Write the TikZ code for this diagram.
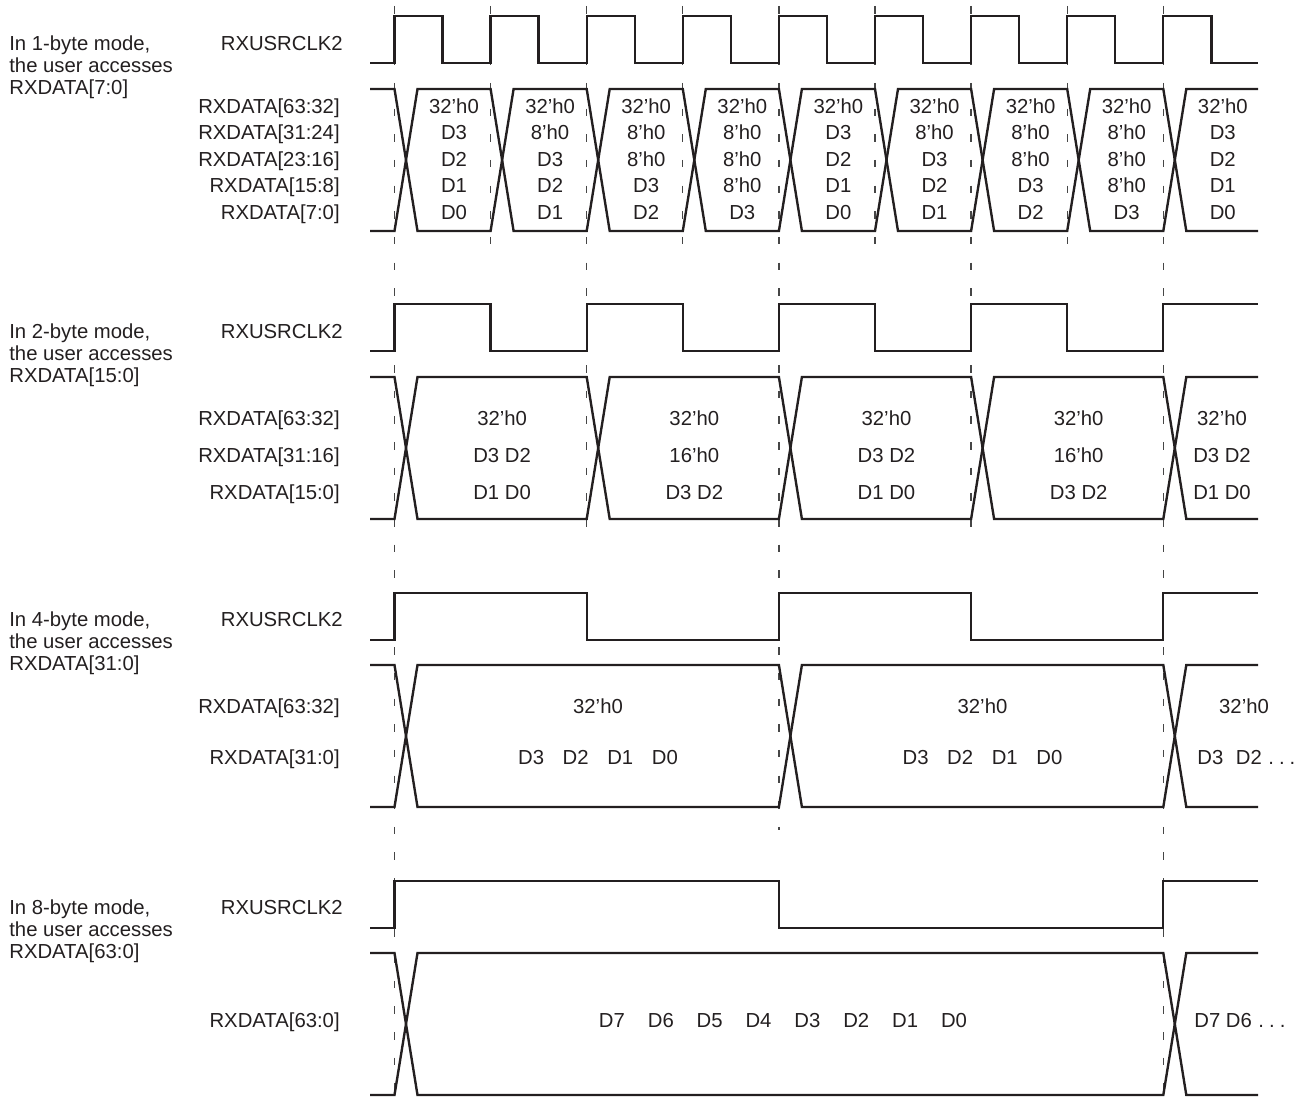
\documentclass[tikz,border=0pt]{standalone}
\usepackage{fontspec}
\setmainfont{Liberation Sans}
\definecolor{ink}{RGB}{35,31,32}
\definecolor{guidegray}{RGB}{70,70,70}
\begin{document}
\begin{tikzpicture}[x=0.02cm,y=-0.02cm,
  wave/.style={draw=ink,line width=1.35pt,line join=miter,line cap=butt},
  guideline/.style={draw=guidegray,line width=0.75pt,dash pattern=on 4.3pt off 10.3pt},
  lbl/.style={font=\fontsize{11.55}{13.5}\selectfont,text=ink,inner sep=0pt,text height=8.3pt,text depth=0pt}]
\useasboundingbox (0,0) rectangle (1302,1097);
% ---------- dashed guide lines ----------
\foreach \i in {1,3,5,7} \draw[guideline] ({394.5+96.1*\i},6) -- ({394.5+96.1*\i},252);
\foreach \i in {2,6} \draw[guideline] ({394.5+96.1*\i},6) -- ({394.5+96.1*\i},541);
\draw[guideline] (778.9,6) -- (778.9,830);
\foreach \i in {0,8} \draw[guideline] ({394.5+96.1*\i},6) -- ({394.5+96.1*\i},1092);
% ---------- section 1 (1-byte) ----------
\draw[wave] (370,63) \foreach \i in {0,...,8} { -| ({394.5+96.1*\i},16) -| ({442.55+96.1*\i},63) } -- (1258,63);
\draw[wave] (370,89) \foreach \i in {0,2,4,6} { -- ({394.5+96.1*\i},89) -- ({417.5+96.1*\i},231) -- ({490.6+96.1*\i},231) -- ({513.6+96.1*\i},89) } -- (1163.3,89) -- (1186.3,231) -- (1258,231);
\draw[wave] (370,231) \foreach \i in {0,2,4,6} { -- ({394.5+96.1*\i},231) -- ({417.5+96.1*\i},89) -- ({490.6+96.1*\i},89) -- ({513.6+96.1*\i},231) } -- (1163.3,231) -- (1186.3,89) -- (1258,89);
% ---------- section 2 (2-byte) ----------
\draw[wave] (370,351) \foreach \i in {0,...,3} { -| ({394.5+192.2*\i},304) -| ({490.6+192.2*\i},351) } -| (1163.3,304) -- (1258,304);
\draw[wave] (370,377) \foreach \i in {0,2} { -- ({394.5+192.2*\i},377) -- ({417.5+192.2*\i},519) -- ({586.7+192.2*\i},519) -- ({609.7+192.2*\i},377) } -- (1163.3,377) -- (1186.3,519) -- (1258,519);
\draw[wave] (370,519) \foreach \i in {0,2} { -- ({394.5+192.2*\i},519) -- ({417.5+192.2*\i},377) -- ({586.7+192.2*\i},377) -- ({609.7+192.2*\i},519) } -- (1163.3,519) -- (1186.3,377) -- (1258,377);
% ---------- section 3 (4-byte) ----------
\draw[wave] (370,640) \foreach \i in {0,1} { -| ({394.5+384.4*\i},593) -| ({586.7+384.4*\i},640) } -| (1163.3,593) -- (1258,593);
\draw[wave] (370,665) -- (394.5,665) -- (417.5,807) -- (778.9,807) -- (801.9,665) -- (1163.3,665) -- (1186.3,807) -- (1258,807);
\draw[wave] (370,807) -- (394.5,807) -- (417.5,665) -- (778.9,665) -- (801.9,807) -- (1163.3,807) -- (1186.3,665) -- (1258,665);
% ---------- section 4 (8-byte) ----------
\draw[wave] (370,928) -| (394.5,881) -| (778.9,928) -| (1163.3,881) -- (1258,881);
\draw[wave] (370,953) -- (394.5,953) -- (417.5,1095) -- (1163.3,1095) -- (1186.3,953) -- (1258,953);
\draw[wave] (370,1095) -- (394.5,1095) -- (417.5,953) -- (1163.3,953) -- (1186.3,1095) -- (1258,1095);
% ---------- left labels ----------
\foreach \s/\n/\r in {0/1/7:0, 1/2/15:0, 2/4/31:0, 3/8/63:0} {
  \node[lbl,anchor=west] (mode\s a) at (9,{43+288*\s}) {In \n-byte mode,};
  \node[lbl,anchor=west] (mode\s b) at (9,{65+288*\s}) {the user accesses};
  \node[lbl,anchor=west] (mode\s c) at (9,{87+288*\s}) {RXDATA[\r]};
  \node[lbl,anchor=east] (clk\s) at (343,{43+288*\s}) {RXUSRCLK2};
}
% ---------- signal names ----------
\node[lbl,anchor=east] (s1r1) at (340,106) {RXDATA[63:32]};
\node[lbl,anchor=east] (s1r2) at (340,132.5) {RXDATA[31:24]};
\node[lbl,anchor=east] (s1r3) at (340,159) {RXDATA[23:16]};
\node[lbl,anchor=east] (s1r4) at (340,185.5) {RXDATA[15:8]};
\node[lbl,anchor=east] (s1r5) at (340,212) {RXDATA[7:0]};
\node[lbl,anchor=east] (s2r1) at (340,418) {RXDATA[63:32]};
\node[lbl,anchor=east] (s2r2) at (340,455) {RXDATA[31:16]};
\node[lbl,anchor=east] (s2r3) at (340,492) {RXDATA[15:0]};
\node[lbl,anchor=east] (s3r1) at (340,706) {RXDATA[63:32]};
\node[lbl,anchor=east] (s3r2) at (340,757) {RXDATA[31:0]};
\node[lbl,anchor=east] (s4r1) at (340,1020) {RXDATA[63:0]};
% ---------- section 1 values ----------
\foreach \k/\b/\c/\d/\e in {0/D3/D2/D1/D0, 1/8’h0/D3/D2/D1, 2/8’h0/8’h0/D3/D2, 3/8’h0/8’h0/8’h0/D3,
  4/D3/D2/D1/D0, 5/8’h0/D3/D2/D1, 6/8’h0/8’h0/D3/D2, 7/8’h0/8’h0/8’h0/D3, 8/D3/D2/D1/D0} {
  \node[lbl] (a\k r1) at ({454+96.1*\k},106) {32’h0};
  \node[lbl] (a\k r2) at ({454+96.1*\k},132.5) {\b};
  \node[lbl] (a\k r3) at ({454+96.1*\k},159) {\c};
  \node[lbl] (a\k r4) at ({454+96.1*\k},185.5) {\d};
  \node[lbl] (a\k r5) at ({454+96.1*\k},212) {\e};
}
% ---------- section 2 values ----------
\foreach \k/\x/\b/\c in {0/502.1/D3 D2/D1 D0, 1/694.3/16’h0/D3 D2, 2/886.5/D3 D2/D1 D0, 3/1078.7/16’h0/D3 D2, 4/1222/D3 D2/D1 D0} {
  \node[lbl] (b\k r1) at (\x,418) {32’h0};
  \node[lbl] (b\k r2) at (\x,455) {\b};
  \node[lbl] (b\k r3) at (\x,492) {\c};
}
% ---------- section 3 values ----------
\foreach \k/\x in {0/598, 1/982.5} {
  \node[lbl] (c\k r1) at (\x,706) {32’h0};
  \node[lbl] (c\k r2) at (\x,757) {D3\hspace{0.92em}D2\hspace{0.92em}D1\hspace{0.92em}D0};
}
\node[lbl] (c2r1) at (1244,706) {32’h0};
\node[lbl,anchor=west] (c2r2) at (1197,757) {D3\hspace{0.62em}D2\hspace{0.32em}.\hspace{0.25em}.\hspace{0.25em}.};
% ---------- section 4 values ----------
\node[lbl] (d0r1) at (783,1020) {D7\hspace{1.13em}D6\hspace{1.13em}D5\hspace{1.13em}D4\hspace{1.13em}D3\hspace{1.13em}D2\hspace{1.13em}D1\hspace{1.13em}D0};
\node[lbl,anchor=west] (d1r1) at (1194,1020) {D7 D6\hspace{0.32em}.\hspace{0.25em}.\hspace{0.25em}.};
\end{tikzpicture}
\end{document}
